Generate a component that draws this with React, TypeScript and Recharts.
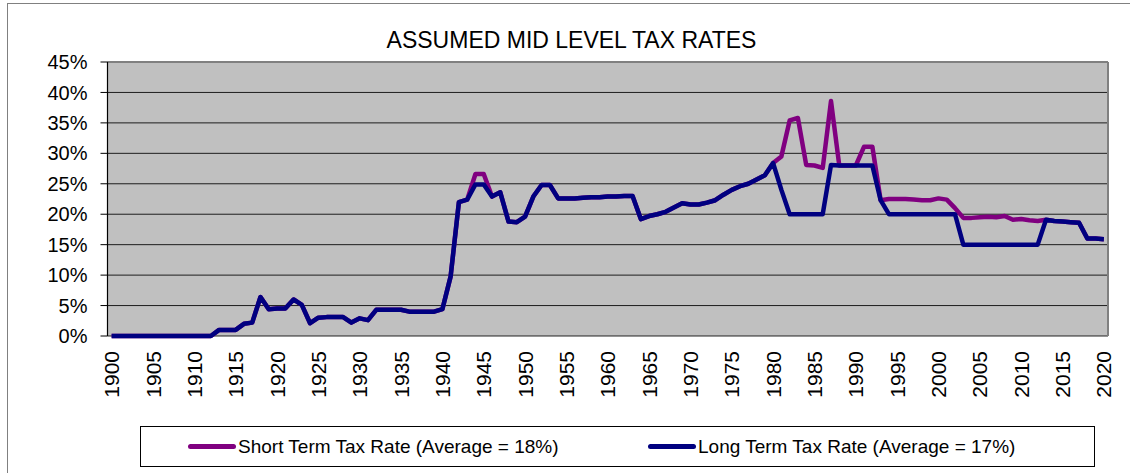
import React from "react";
import {
  CartesianGrid,
  Line,
  LineChart,
  ReferenceLine,
  XAxis,
  YAxis,
} from "recharts";

const FONT = '"Liberation Sans", Arial, Helvetica, sans-serif';

// one category per year, 1900..2020
const YEARS = Array.from({ length: 121 }, (_, i) => 1900 + i);

const YEAR_LABELS = [
  1900, 1905, 1910, 1915, 1920, 1925, 1930, 1935, 1940, 1945, 1950, 1955, 1960,
  1965, 1970, 1975, 1980, 1985, 1990, 1995, 2000, 2005, 2010, 2015, 2020,
];

const PCT_TICKS = [0, 5, 10, 15, 20, 25, 30, 35, 40, 45];

// percent, 1900..2020
const LONG_TERM = [
  0, 0, 0, 0, 0, 0, 0, 0, 0, 0, // 1900s
  0, 0, 0, 1, 1, 1, 2, 2.2, 6.4, 4.4, // 1910s
  4.5, 4.5, 6, 5.1, 2.1, 3, 3.1, 3.1, 3.1, 2.2, // 1920s
  2.9, 2.6, 4.3, 4.3, 4.3, 4.3, 4, 4, 4, 4, // 1930s
  4.4, 9.8, 22, 22.4, 24.9, 24.9, 22.9, 23.6, 18.8, 18.7, // 1940s
  19.6, 22.9, 24.8, 24.8, 22.6, 22.6, 22.6, 22.7, 22.8, 22.8, // 1950s
  22.9, 22.9, 23, 23, 19.2, 19.7, 20, 20.4, 21.1, 21.8, // 1960s
  21.6, 21.6, 21.9, 22.3, 23.2, 24, 24.6, 25, 25.7, 26.4, // 1970s
  28.4, 24, 20, 20, 20, 20, 20, 28.1, 28, 28, // 1980s
  28, 28, 28, 22.3, 20, 20, 20, 20, 20, 20, // 1990s
  20, 20, 20, 15, 15, 15, 15, 15, 15, 15, // 2000s
  15, 15, 15, 19.1, 18.9, 18.8, 18.7, 18.6, 16, 16, // 2010s
  15.9, // 2020
];

const SHORT_TERM = [
  0, 0, 0, 0, 0, 0, 0, 0, 0, 0,
  0, 0, 0, 1, 1, 1, 2, 2.2, 6.4, 4.4,
  4.5, 4.5, 6, 5.1, 2.1, 3, 3.1, 3.1, 3.1, 2.2,
  2.9, 2.6, 4.3, 4.3, 4.3, 4.3, 4, 4, 4, 4,
  4.4, 9.8, 22, 22.4, 26.6, 26.6, 22.9, 23.6, 18.8, 18.7,
  19.6, 22.9, 24.8, 24.8, 22.6, 22.6, 22.6, 22.7, 22.8, 22.8,
  22.9, 22.9, 23, 23, 19.2, 19.7, 20, 20.4, 21.1, 21.8,
  21.6, 21.6, 21.9, 22.3, 23.2, 24, 24.6, 25, 25.7, 26.4,
  28.4, 29.5, 35.4, 35.8, 28.1, 28, 27.6, 38.6, 28, 28,
  28, 31.1, 31.1, 22.3, 22.5, 22.5, 22.5, 22.4, 22.3, 22.3,
  22.6, 22.4, 21, 19.4, 19.4, 19.5, 19.6, 19.5, 19.7, 19.1,
  19.2, 19, 18.9, 19.1, 18.9, 18.8, 18.7, 18.6, 16, 16,
  15.9,
];

const SERIES = [
  { key: "short", label: "Short Term Tax Rate (Average = 18%)", color: "#800080", values: SHORT_TERM },
  { key: "long", label: "Long Term Tax Rate (Average = 17%)", color: "#000080", values: LONG_TERM },
];

const data = YEARS.map((year, i) => ({
  year,
  short: SHORT_TERM[i],
  long: LONG_TERM[i],
}));

// tick marks sit between the year categories
const MARK_TICKS = YEAR_LABELS.map((y) => y - 0.5);
const X_DOMAIN = [YEARS[0] - 0.5, YEARS[YEARS.length - 1] + 0.5];

function TickMark({ x, y }: any) {
  return <line x1={x} x2={x} y1={y - 6} y2={y + 7} stroke="#000" strokeWidth={1} />;
}

function YearTick({ x, y, payload }: any) {
  return (
    <text
      x={x}
      y={y}
      transform={`rotate(-90 ${x} ${y})`}
      textAnchor="end"
      dy="0.36em"
      fontSize={21}
      fontFamily={FONT}
      fill="#000"
    >
      {payload.value}
    </text>
  );
}

export default function App() {
  return (
    <div
      style={{
        position: "absolute",
        left: 0,
        top: 0,
        width: 1130,
        height: 473,
        overflow: "hidden",
        background: "#fff",
        fontFamily: FONT,
      }}
    >
      <div
        style={{
          position: "absolute",
          left: 7,
          top: 3,
          width: 1140,
          height: 480,
          borderTop: "1.5px solid #808080",
          borderLeft: "1.5px solid #808080",
        }}
      />
      <div
        style={{
          position: "absolute",
          left: 0,
          top: 29,
          width: 1143,
          textAlign: "center",
          fontSize: 23,
          lineHeight: "23px",
          color: "#000",
        }}
      >
        ASSUMED MID LEVEL TAX RATES
      </div>

      <div style={{ position: "absolute", left: 0, top: 0 }}>
        <LineChart
          width={1130}
          height={473}
          data={data}
          margin={{ top: 62, right: 22, bottom: 77, left: 0 }}
        >
          <CartesianGrid
            horizontal
            vertical={false}
            fill="#C0C0C0"
            stroke="#000"
            strokeOpacity={0.85}
            xAxisId="labels"
          />
          <XAxis
            xAxisId="marks"
            dataKey="year"
            type="number"
            domain={X_DOMAIN}
            ticks={MARK_TICKS}
            interval={0}
            height={0}
            tickSize={0}
            tickMargin={0}
            tickLine={false}
            tick={<TickMark />}
            axisLine={{ stroke: "#000", strokeWidth: 1.2 }}
            allowDataOverflow
          />
          <XAxis
            xAxisId="labels"
            dataKey="year"
            type="number"
            domain={X_DOMAIN}
            ticks={YEAR_LABELS}
            interval={0}
            height={60}
            tickSize={0}
            tickMargin={15}
            tickLine={false}
            axisLine={false}
            tick={<YearTick />}
            allowDataOverflow
          />
          <YAxis
            type="number"
            domain={[0, 45]}
            ticks={PCT_TICKS}
            interval={0}
            width={107.5}
            tickSize={7}
            tickMargin={13}
            tickFormatter={(v: number) => `${v}%`}
            tick={{ fontSize: 20, fill: "#000", fontFamily: FONT }}
            tickLine={{ stroke: "#000" }}
            axisLine={{ stroke: "#000", strokeWidth: 1.2 }}
          />
          <ReferenceLine xAxisId="labels" y={45} stroke="#808080" strokeWidth={2} />
          <ReferenceLine xAxisId="labels" x={X_DOMAIN[1]} stroke="#808080" strokeWidth={2} />
          {SERIES.map((s) => (
            <Line
              key={s.key}
              xAxisId="labels"
              type="linear"
              dataKey={s.key}
              stroke={s.color}
              strokeWidth={4.5}
              strokeLinejoin="round"
              dot={false}
              activeDot={false}
              isAnimationActive={false}
            />
          ))}
        </LineChart>
      </div>

      <div
        style={{
          position: "absolute",
          left: 140,
          top: 426,
          width: 953,
          height: 39,
          border: "1px solid #000",
          display: "flex",
          alignItems: "center",
          fontSize: 19,
          color: "#000",
        }}
      >
        {SERIES.map((s, i) => (
          <div
            key={s.key}
            style={{
              position: "absolute",
              left: i === 0 ? 47 : 507,
              display: "flex",
              alignItems: "center",
            }}
          >
            <span
              style={{
                display: "inline-block",
                width: 48,
                height: 5,
                borderRadius: 2.5,
                background: s.color,
                marginRight: 2,
              }}
            />
            <span>{s.label}</span>
          </div>
        ))}
      </div>
    </div>
  );
}
